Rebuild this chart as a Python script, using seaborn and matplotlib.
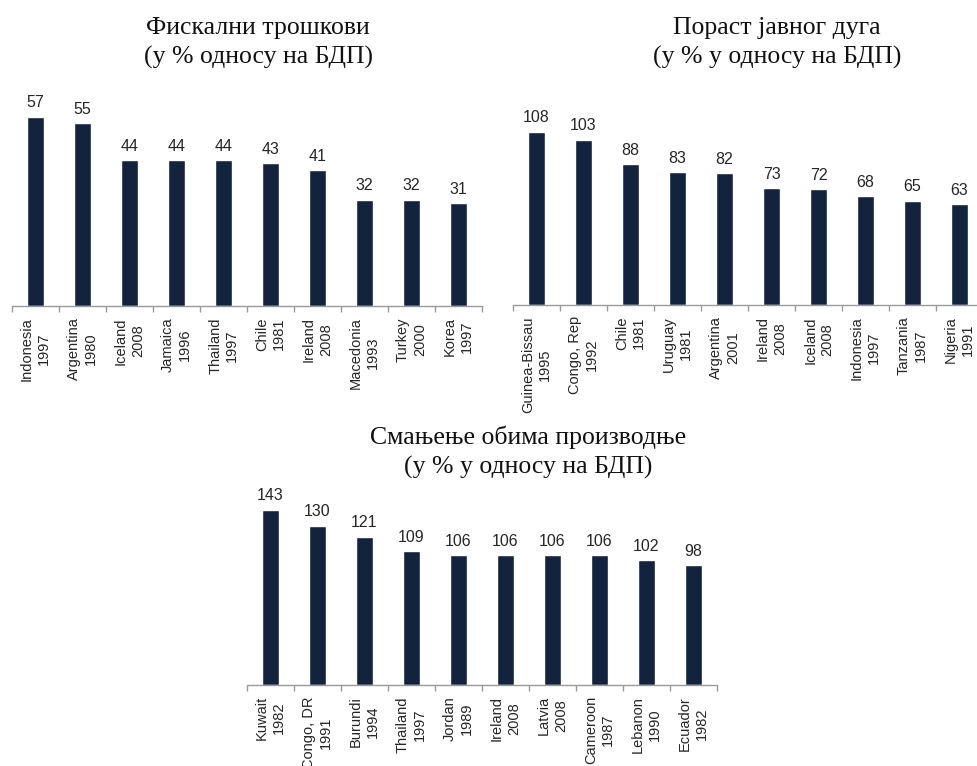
import matplotlib
matplotlib.use("Agg")
import matplotlib.pyplot as plt
import seaborn as sns
import pandas as pd
import numpy as np

# Fiscal costs (% of GDP)
fiscal_labels = ["Indonesia\n1997", "Argentina\n1980", "Iceland\n2008", "Jamaica\n1996",
                 "Thailand\n1997", "Chile\n1981", "Ireland\n2008", "Macedonia\n1993",
                 "Turkey\n2000", "Korea\n1997"]
fiscal_values = [57, 55, 44, 44, 44, 43, 41, 32, 32, 31]

# Increase in public debt (% of GDP)
debt_labels = ["Guinea-Bissau\n1995", "Congo, Rep\n1992", "Chile\n1981", "Uruguay\n1981",
               "Argentina\n2001", "Ireland\n2008", "Iceland\n2008", "Indonesia\n1997",
               "Tanzania\n1987", "Nigeria\n1991"]
debt_values = [108, 103, 88, 83, 82, 73, 72, 68, 65, 63]

# Output loss (% of GDP)
output_labels = ["Kuwait\n1982", "Congo, DR\n1991", "Burundi\n1994", "Thailand\n1997",
                 "Jordan\n1989", "Ireland\n2008", "Latvia\n2008", "Cameroon\n1987",
                 "Lebanon\n1990", "Ecuador\n1982"]
output_values = [143, 130, 121, 109, 106, 106, 106, 106, 102, 98]

titles = [
    "Фискални трошкови\n(у % односу на БДП)",
    "Пораст јавног дуга\n(у % у односу на БДП)",
    "Смањење обима производње\n(у % у односу на БДП)",
]

BAR = "#13233d"
TEXT = "#262626"
AXIS = "#9a9a9a"

sns.set_theme(style="white")
plt.rcParams["font.family"] = ["Liberation Sans", "DejaVu Sans"]

W, H = 977, 766
fig = plt.figure(figsize=(W / 100, H / 100), dpi=100)


def px_axes(left, top, right, bottom):
    return fig.add_axes([left / W, 1 - bottom / H, (right - left) / W, (bottom - top) / H])


def draw(ax, labels, values, ymax):
    df = pd.DataFrame({"cat": labels, "val": values})
    sns.barplot(data=df, x="cat", y="val", color=BAR, width=0.37, saturation=1,
                ax=ax, errorbar=None)
    ax.set_xlim(-0.5, len(labels) - 0.5)
    ax.set_ylim(0, ymax)
    ax.set_xlabel("")
    ax.set_ylabel("")
    ax.set_yticks([])
    for s in ["top", "left", "right"]:
        ax.spines[s].set_visible(False)
    ax.spines["bottom"].set_color(AXIS)
    ax.spines["bottom"].set_linewidth(1.0)
    ax.set_xticks(range(len(labels)))
    ax.set_xticklabels(labels, rotation=90, ha="center", va="top",
                       multialignment="center", fontsize=10.5, color=TEXT,
                       linespacing=1.25)
    ax.tick_params(axis="x", which="major", length=0, pad=8)
    ax.set_xticks(np.arange(-0.5, len(labels)), minor=True)
    ax.tick_params(axis="x", which="minor", length=4, width=1, color=AXIS,
                   direction="out", bottom=True)
    for c in ax.containers:
        ax.bar_label(c, fmt="%d", padding=4.5, fontsize=11.5, color=TEXT)
    ax.patch.set_alpha(0)


ax1 = px_axes(12, 90, 482, 306)
draw(ax1, fiscal_labels, fiscal_values, 65)

ax2 = px_axes(513, 90, 983, 305)
draw(ax2, debt_labels, debt_values, 134)

ax3 = px_axes(247, 490, 717, 685)
draw(ax3, output_labels, output_values, 159)

title_kw = dict(ha="center", va="center", fontsize=18.5,
                color="#111111", family=["Liberation Serif", "DejaVu Serif"],
                linespacing=1.38)
fig.text(258 / W, 1 - 43 / H, titles[0], **title_kw)
fig.text(777 / W, 1 - 43 / H, titles[1], **title_kw)
fig.text(528 / W, 1 - 452 / H, titles[2], **title_kw)

fig.savefig("out.png", dpi=100, facecolor="white")
